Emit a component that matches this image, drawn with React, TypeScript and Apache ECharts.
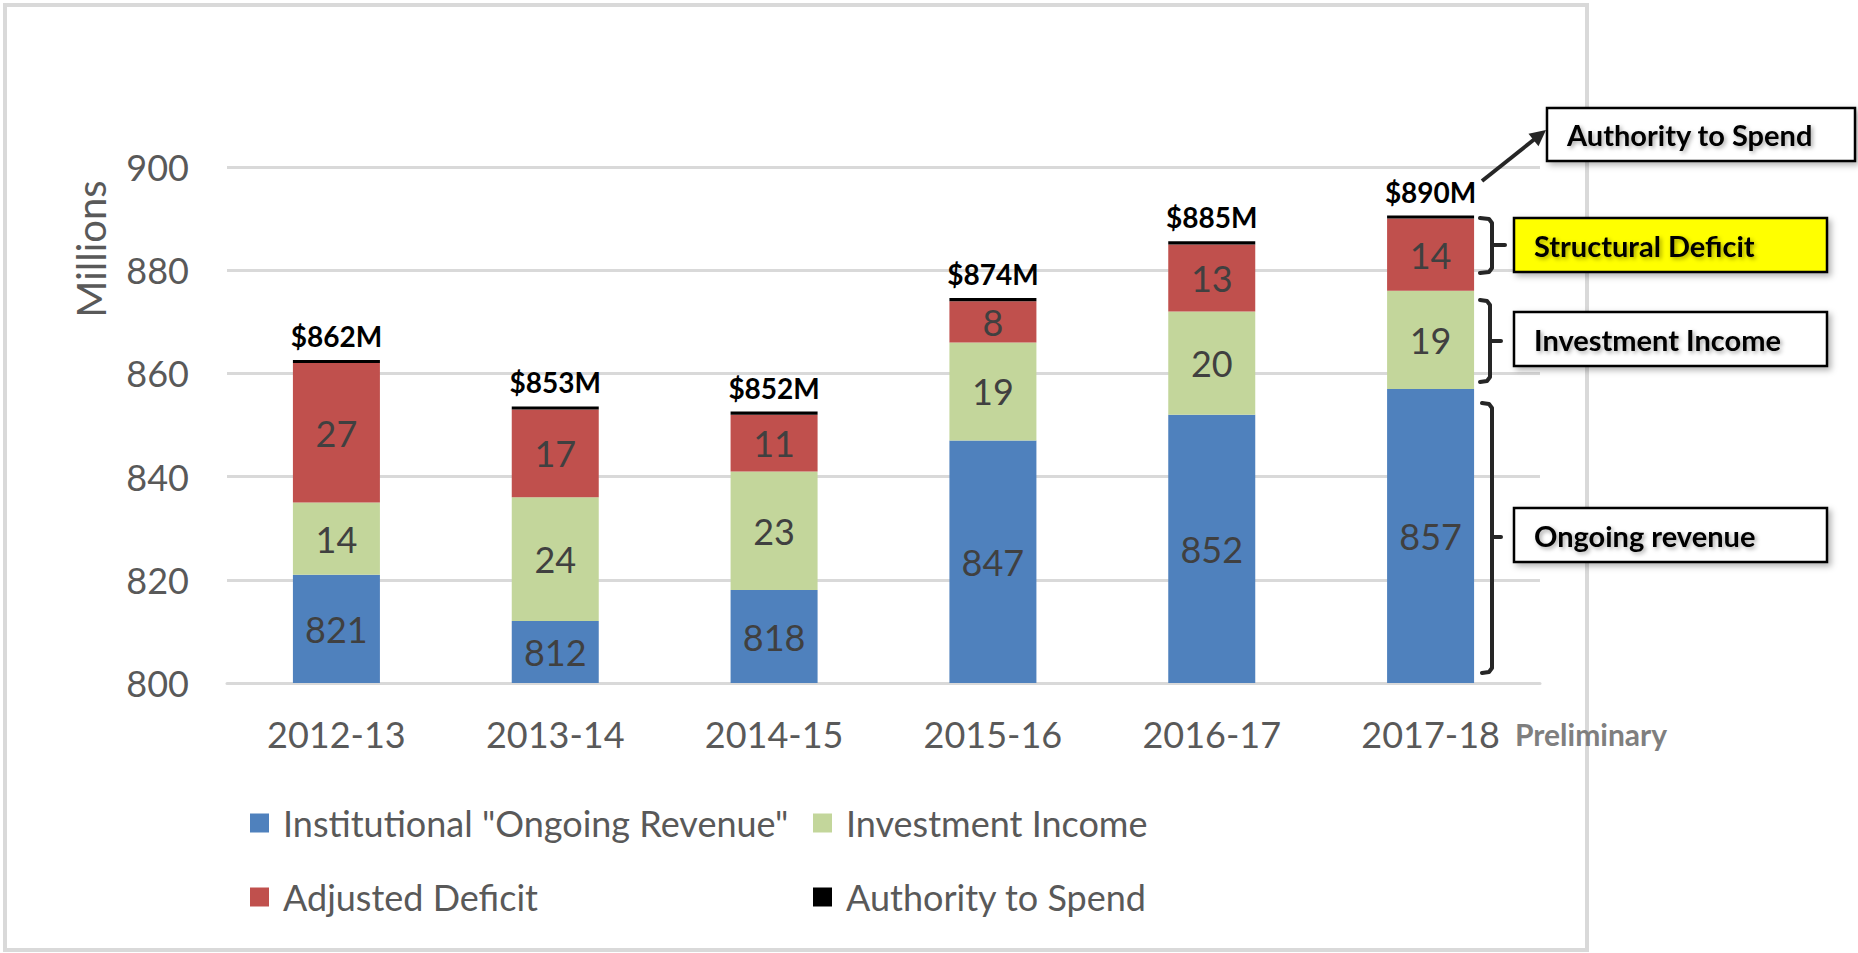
import React, { useEffect, useRef } from "react";
import * as echarts from "echarts";

// ---- data ----
const categories = ["2012-13", "2013-14", "2014-15", "2015-16", "2016-17", "2017-18"];
const ongoingRevenue = [821, 812, 818, 847, 852, 857];
const investmentIncome = [14, 24, 23, 19, 20, 19];
const adjustedDeficit = [27, 17, 11, 8, 13, 14];
const authorityCap = [0.6, 0.6, 0.6, 0.6, 0.6, 0.6];
const authorityTotals = [862, 853, 852, 874, 885, 890];
const yMin = 800;
const yMax = 900;
const yInterval = 20;
const seriesNames = [
  'Institutional "Ongoing Revenue"',
  "Investment Income",
  "Adjusted Deficit",
  "Authority to Spend",
];
const seriesColors = ["#4f81bd", "#c3d69b", "#c0504d", "#000000"];

const FONT = "Lato";
const W = 1858;
const H = 953;

function bracket(xl: number, xv: number, xn: number, top: number, bottom: number, mid: number) {
  const st = { stroke: "#262626", lineWidth: 4, fill: null, lineCap: "round", lineJoin: "round" };
  return [
    {
      type: "polyline",
      z: 20,
      shape: { points: [[xl, top], [xv - 3, top + 1], [xv, top + 5], [xv, bottom - 5], [xv - 3, bottom - 1], [xl, bottom]] },
      style: st,
    },
    { type: "line", z: 20, shape: { x1: xv, y1: mid, x2: xn, y2: mid }, style: st },
  ];
}

function box(x: number, y: number, w: number, h: number, fill: string, label: string) {
  return [
    {
      type: "rect",
      z: 20,
      shape: { x, y, width: w, height: h },
      style: {
        fill,
        stroke: "#000",
        lineWidth: 2.5,
        shadowBlur: 6,
        shadowOffsetX: 3,
        shadowOffsetY: 3,
        shadowColor: "rgba(0,0,0,0.3)",
      },
    },
    {
      type: "text",
      z: 21,
      style: {
        text: label,
        x: x + 20,
        y: y + h / 2,
        fill: "#000",
        fontFamily: FONT,
        fontSize: 29,
        fontWeight: "bold",
        textAlign: "left",
        verticalAlign: "middle",
        textShadowColor: "rgba(0,0,0,0.35)",
        textShadowBlur: 4,
        textShadowOffsetX: 2,
        textShadowOffsetY: 2,
      },
    },
  ];
}

function arrow(x1: number, y1: number, x2: number, y2: number) {
  const dx = x2 - x1;
  const dy = y2 - y1;
  const len = Math.sqrt(dx * dx + dy * dy);
  const ux = dx / len;
  const uy = dy / len;
  const hl = 16;
  const hw = 8;
  const bx = x2 - ux * hl;
  const by = y2 - uy * hl;
  return [
    {
      type: "line",
      z: 20,
      shape: { x1, y1, x2: bx + ux * 2, y2: by + uy * 2 },
      style: { stroke: "#262626", lineWidth: 4 },
    },
    {
      type: "polygon",
      z: 20,
      shape: {
        points: [
          [x2, y2],
          [bx - uy * hw, by + ux * hw],
          [bx + uy * hw, by - ux * hw],
        ],
      },
      style: { fill: "#262626" },
    },
  ];
}

export default function App() {
  const ref = useRef<HTMLDivElement>(null);

  useEffect(() => {
    if (!ref.current) return;
    const chart = echarts.init(ref.current, null, { renderer: "svg" });

    const labelStyle = {
      show: true,
      position: "inside",
      color: "#404040",
      fontSize: 36,
      fontFamily: FONT,
    };

    const legendBase = {
      orient: "vertical",
      icon: "rect",
      itemWidth: 19,
      itemHeight: 19,
      itemGap: 38,
      padding: 0,
      selectedMode: false,
      textStyle: {
        color: "#595959",
        fontSize: 36,
        fontFamily: FONT,
        lineHeight: 36,
        padding: [0, 0, 0, 9],
      },
    };

    const option: any = {
      animation: false,
      backgroundColor: "#ffffff",
      textStyle: { fontFamily: FONT },
      color: seriesColors,
      grid: { left: 227, right: W - 1540, top: 167, bottom: H - 683, containLabel: false },
      xAxis: {
        type: "category",
        data: categories,
        axisLine: { show: true, lineStyle: { color: "#d9d9d9", width: 3 } },
        axisTick: { show: false },
        axisLabel: { color: "#595959", fontSize: 36, margin: 33, fontFamily: FONT },
      },
      yAxis: {
        type: "value",
        min: yMin,
        max: yMax,
        interval: yInterval,
        axisLine: { show: false },
        axisTick: { show: false },
        axisLabel: { color: "#595959", fontSize: 36, margin: 38, fontFamily: FONT },
        splitLine: { lineStyle: { color: "#d9d9d9", width: 3 } },
      },
      legend: [
        { ...legendBase, left: 250, top: 805, data: [seriesNames[0], seriesNames[2]] },
        { ...legendBase, left: 813, top: 805, data: [seriesNames[1], seriesNames[3]] },
      ],
      series: [
        {
          name: seriesNames[0],
          type: "bar",
          stack: "total",
          barWidth: 87,
          data: ongoingRevenue,
          itemStyle: { color: seriesColors[0] },
          label: labelStyle,
        },
        {
          name: seriesNames[1],
          type: "bar",
          stack: "total",
          barWidth: 87,
          data: investmentIncome,
          itemStyle: { color: seriesColors[1] },
          label: labelStyle,
        },
        {
          name: seriesNames[2],
          type: "bar",
          stack: "total",
          barWidth: 87,
          data: adjustedDeficit,
          itemStyle: { color: seriesColors[2] },
          label: labelStyle,
        },
        {
          name: seriesNames[3],
          type: "bar",
          stack: "total",
          barWidth: 87,
          data: authorityCap,
          itemStyle: { color: seriesColors[3] },
          label: {
            show: true,
            position: "top",
            distance: 10,
            color: "#000",
            fontSize: 28,
            fontWeight: "bold",
            fontFamily: FONT,
            formatter: (p: any) => "$" + authorityTotals[p.dataIndex] + "M",
          },
        },
      ],
      graphic: [
        {
          type: "rect",
          z: -1,
          silent: true,
          shape: { x: 5, y: 5, width: 1582, height: 945 },
          style: { fill: null, stroke: "#d9d9d9", lineWidth: 4 },
        },
        {
          type: "text",
          z: 5,
          x: 91,
          y: 249,
          rotation: Math.PI / 2,
          style: {
            text: "Millions",
            x: 0,
            y: 0,
            fill: "#595959",
            fontFamily: FONT,
            fontSize: 40,
            textAlign: "center",
            verticalAlign: "middle",
          },
        },
        ...box(1547, 108, 308, 53, "#ffffff", "Authority to Spend"),
        ...box(1514, 218, 313, 54, "#ffff00", "Structural Deficit"),
        ...box(1514, 312, 313, 54, "#ffffff", "Investment Income"),
        ...box(1514, 508, 313, 54, "#ffffff", "Ongoing revenue"),
        ...bracket(1480, 1492, 1505, 218, 273, 245),
        ...bracket(1480, 1490, 1501, 300, 382, 341),
        ...bracket(1482, 1492, 1501, 403, 673, 537),
        ...arrow(1482, 181, 1546, 130),
        {
          type: "text",
          z: 20,
          style: {
            text: "Preliminary",
            x: 1515,
            y: 734,
            fill: "#7f7f7f",
            fontFamily: FONT,
            fontSize: 30,
            fontWeight: "bold",
            textAlign: "left",
            verticalAlign: "middle",
          },
        },
      ],
    };

    chart.setOption(option);
    return () => chart.dispose();
  }, []);

  return (
    <div
      ref={ref}
      style={{ position: "fixed", left: 0, top: 0, width: W, height: H, background: "#fff" }}
    />
  );
}
